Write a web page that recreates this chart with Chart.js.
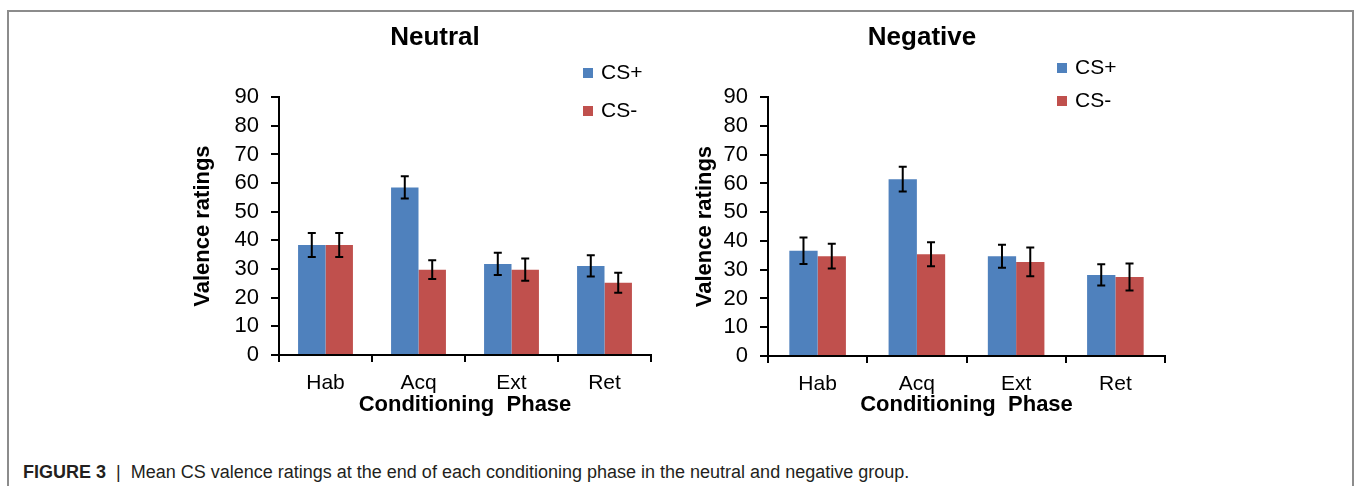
<!DOCTYPE html>
<html>
<head>
<meta charset="utf-8">
<script src="https://cdn.jsdelivr.net/npm/chart.js@4/dist/chart.umd.min.js"></script>
<style>
  body { margin: 0; background: #fff; width: 1354px; height: 486px; overflow: hidden; position: relative; font-family: "Liberation Sans", Arial, sans-serif; }
  .frame { position: absolute; left: 7px; top: 10px; width: 1343px; height: 490px; border: 2px solid #8c8c8c; border-bottom: none; }
  canvas { position: absolute; top: 0; }
  #neutral { left: 180px; }
  #negative { left: 677px; }
  .caption { position: absolute; left: 23px; top: 462px; font-size: 18px; color: #231f20; white-space: nowrap; }
  .caption b { font-weight: bold; }
</style>
</head>
<body>
<div class="frame"></div>
<canvas id="neutral" width="510" height="440"></canvas>
<canvas id="negative" width="490" height="440"></canvas>
<div class="caption"><b>FIGURE 3</b> &nbsp;|&nbsp; Mean CS valence ratings at the end of each conditioning phase in the neutral and negative group.</div>
<script>
// values
const phases = ['Hab', 'Acq', 'Ext', 'Ret'];
const seriesNames = ['CS+', 'CS-'];
const yTicks = [0, 10, 20, 30, 40, 50, 60, 70, 80, 90];

const neutralPlus = [38.4, 58.5, 31.8, 31.1];
const neutralPlusErr = [4.2, 3.9, 3.9, 3.7];
const neutralMinus = [38.4, 29.8, 29.8, 25.2];
const neutralMinusErr = [4.2, 3.3, 3.9, 3.5];

const negativePlus = [36.6, 61.5, 34.7, 28.2];
const negativePlusErr = [4.6, 4.3, 4.0, 3.7];
const negativeMinus = [34.7, 35.4, 32.7, 27.5];
const negativeMinusErr = [4.3, 4.2, 5.0, 4.7];

const blue = '#4F81BD';
const red = '#C0504D';
const font = '"Liberation Sans", Arial, sans-serif';

// error bars drawn from each dataset's errors array
const errorBars = {
    id: 'errorBars',
    afterDatasetsDraw(chart) {
        const ctx = chart.ctx;
        const y = chart.scales.y;
        ctx.save();
        ctx.strokeStyle = '#000';
        ctx.lineWidth = 2;
        chart.data.datasets.forEach((ds, i) => {
            const meta = chart.getDatasetMeta(i);
            meta.data.forEach((bar, j) => {
                const v = ds.data[j], e = ds.errors[j];
                const top = y.getPixelForValue(v + e);
                const bot = y.getPixelForValue(v - e);
                ctx.beginPath();
                ctx.moveTo(bar.x, top); ctx.lineTo(bar.x, bot);
                ctx.moveTo(bar.x - 4, top); ctx.lineTo(bar.x + 4, top);
                ctx.moveTo(bar.x - 4, bot); ctx.lineTo(bar.x + 4, bot);
                ctx.stroke();
            });
        });
        ctx.restore();
    }
};

// legend inside the plot, top right
const boxLegend = {
    id: 'boxLegend',
    afterDraw(chart, args, opts) {
        const ctx = chart.ctx;
        ctx.save();
        ctx.font = '21px ' + font;
        ctx.textBaseline = 'middle';
        chart.data.datasets.forEach((ds, i) => {
            const cy = opts.y + i * opts.gap;
            ctx.fillStyle = ds.backgroundColor;
            ctx.fillRect(opts.x, cy - 5, 10, 10);
            ctx.fillStyle = '#000';
            ctx.fillText(ds.label, opts.x + 18, cy);
        });
        ctx.restore();
    }
};

function makeChart(canvasId, title, plus, plusErr, minus, minusErr, geo) {
    return new Chart(document.getElementById(canvasId), {
        type: 'bar',
        data: {
            labels: phases,
            datasets: [
                { label: seriesNames[0], data: plus, errors: plusErr, backgroundColor: blue },
                { label: seriesNames[1], data: minus, errors: minusErr, backgroundColor: red }
            ]
        },
        options: {
            responsive: false,
            animation: false,
            devicePixelRatio: 1,
            categoryPercentage: geo.cat,
            barPercentage: 1.0,
            layout: { padding: 0 },
            plugins: {
                legend: { display: false },
                tooltip: { enabled: false },
                title: {
                    display: true,
                    text: title,
                    color: '#000',
                    font: { family: font, size: 26, weight: 'bold' },
                    padding: { top: 22, bottom: 44 }
                },
                boxLegend: geo.legend
            },
            scales: {
                x: {
                    type: 'category',
                    grid: { display: true, drawOnChartArea: false, drawTicks: true, tickLength: 7, color: '#000', lineWidth: 2, offset: true },
                    border: { color: '#000', width: 2 },
                    ticks: { color: '#000', font: { family: font, size: 21 }, padding: 9 },
                    title: {
                        display: true,
                        text: 'Conditioning  Phase',
                        color: '#000',
                        font: { family: font, size: 22, weight: 'bold' },
                        padding: { top: 0, bottom: 22 }
                    },
                    afterFit: s => { s.height = geo.xh; }
                },
                y: {
                    type: 'linear',
                    position: 'left',
                    min: 0,
                    max: 90,
                    afterBuildTicks: s => { s.ticks = yTicks.map(v => ({ value: v })); },
                    grid: { display: true, drawOnChartArea: false, drawTicks: true, tickLength: 8, color: '#000', lineWidth: 2 },
                    border: { color: '#000', width: 2 },
                    ticks: { color: '#000', font: { family: font, size: 22 }, padding: 12, autoSkip: false },
                    title: {
                        display: true,
                        text: 'Valence ratings',
                        color: '#000',
                        font: { family: font, size: 22, weight: 'bold' },
                        padding: { top: geo.ytPad, bottom: 0 }
                    },
                    afterFit: s => { s.width = geo.yw; }
                },
                spacer: {
                    type: 'linear',
                    position: 'right',
                    grid: { display: false },
                    border: { display: false },
                    ticks: { display: false },
                    afterFit: s => { s.width = geo.rw; }
                }
            }
        },
        plugins: [errorBars, boxLegend]
    });
}

makeChart('neutral', 'Neutral', neutralPlus, neutralPlusErr, neutralMinus, neutralMinusErr,
    { cat: 0.59, xh: 85, yw: 99, rw: 39, ytPad: 10, legend: { x: 403, y: 73, gap: 38 } });
makeChart('negative', 'Negative', negativePlus, negativePlusErr, negativeMinus, negativeMinusErr,
    { cat: 0.57, xh: 84, yw: 91, rw: 2, ytPad: 15, legend: { x: 380, y: 68, gap: 33 } });
</script>
</body>
</html>
